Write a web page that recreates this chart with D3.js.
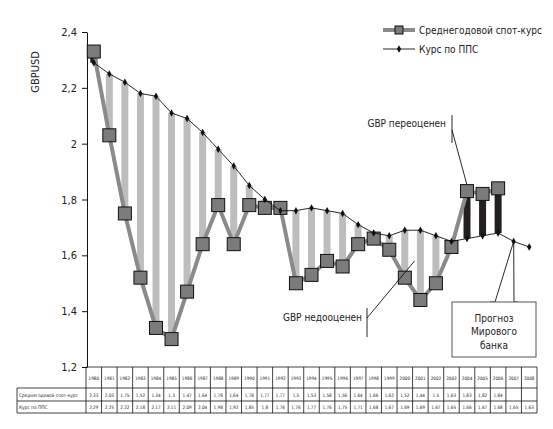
<!DOCTYPE html>
<html>
<head>
<meta charset="utf-8">
<script src="https://cdn.jsdelivr.net/npm/d3@7"></script>
<style>
  body { margin: 0; background: #fff; }
  text { font-family: "DejaVu Sans Condensed", "Open Sans", sans-serif; fill: #222; }
</style>
</head>
<body>
<div class="chart"></div>
<script>
// data
const years = [1980, 1981, 1982, 1983, 1984, 1985, 1986, 1987, 1988, 1989, 1990, 1991, 1992, 1993,
  1994, 1995, 1996, 1997, 1998, 1999, 2000, 2001, 2002, 2003, 2004, 2005, 2006, 2007, 2008]
const spot = [2.33, 2.03, 1.75, 1.52, 1.34, 1.3, 1.47, 1.64, 1.78, 1.64, 1.78, 1.77, 1.77, 1.5,
  1.53, 1.58, 1.56, 1.64, 1.66, 1.62, 1.52, 1.44, 1.5, 1.63, 1.83, 1.82, 1.84, null, null]
const ppp = [2.29, 2.25, 2.22, 2.18, 2.17, 2.11, 2.09, 2.04, 1.98, 1.92, 1.85, 1.8, 1.76, 1.76,
  1.77, 1.76, 1.75, 1.71, 1.68, 1.67, 1.69, 1.69, 1.67, 1.65, 1.66, 1.67, 1.68, 1.65, 1.63]
const yTicks = [1.2, 1.4, 1.6, 1.8, 2, 2.2, 2.4]
const seriesNames = ["Среднегодовой спот-курс", "Курс по ППС"]

const fmt = v => v == null ? "" : String(v).replace(".", ",")

const w = 553
const h = 429
const padL = 86, padR = 537, padT = 32, padB = 367

const svg = d3.select(".chart").append("svg")
  .attr("width", w).attr("height", h)

const x = d3.scaleBand().domain(years).range([padL, padR])
const cx = yr => x(yr) + x.bandwidth() / 2
const y = d3.scaleLinear().domain([1.2, 2.4]).range([padB, padT])

const data = years.map((yr, i) => ({ year: yr, spot: spot[i], ppp: ppp[i] }))
const withSpot = data.filter(d => d.spot != null)

// y axis
const yAxis = d3.axisLeft(y).tickValues(yTicks).tickFormat(fmt).tickSize(5).tickPadding(5).tickSizeOuter(0)
const ga = svg.append("g").attr("transform", `translate(${padL + 1},0)`).call(yAxis)
ga.select(".domain").attr("stroke", "#111")
ga.selectAll(".tick line").attr("stroke", "#111")
ga.selectAll(".tick text").style("font-size", "11px").style("fill", "#222")

svg.append("text")
  .attr("transform", `translate(39,72) rotate(-90)`)
  .attr("text-anchor", "middle")
  .style("font-size", "11px")
  .text("GBPUSD")

// difference bars
svg.selectAll(".diff").data(withSpot).enter().append("rect")
  .attr("class", "diff")
  .attr("x", d => cx(d.year) - 3.5)
  .attr("width", 7)
  .attr("y", d => y(Math.max(d.spot, d.ppp)))
  .attr("height", d => Math.abs(y(d.spot) - y(d.ppp)))
  .attr("fill", d => d.spot > d.ppp ? "#231f20" : "#bdbdbd")

// spot line
const line = key => d3.line().x(d => cx(d.year)).y(d => y(d[key]))
svg.append("path").datum(withSpot)
  .attr("d", line("spot"))
  .attr("fill", "none").attr("stroke", "#8a8a8a").attr("stroke-width", 4)

svg.selectAll(".sq").data(withSpot).enter().append("rect")
  .attr("class", "sq")
  .attr("x", d => cx(d.year) - 6.5).attr("y", d => y(d.spot) - 6.5)
  .attr("width", 13).attr("height", 13)
  .attr("fill", "#7b7b7b").attr("stroke", "#111").attr("stroke-width", 1)

// ppp line
svg.append("path").datum(data)
  .attr("d", line("ppp"))
  .attr("fill", "none").attr("stroke", "#111").attr("stroke-width", 0.9)

const diamond = d3.symbol().type(d3.symbolDiamond).size(16)
svg.selectAll(".dm").data(data).enter().append("path")
  .attr("class", "dm")
  .attr("d", diamond)
  .attr("transform", d => `translate(${cx(d.year)},${y(d.ppp)})`)
  .attr("fill", "#111")

// legend
const lg = svg.append("g")
lg.append("line").attr("x1", 383).attr("x2", 415).attr("y1", 30).attr("y2", 30)
  .attr("stroke", "#8a8a8a").attr("stroke-width", 4)
lg.append("rect").attr("x", 395).attr("y", 26).attr("width", 8).attr("height", 8)
  .attr("fill", "#7b7b7b").attr("stroke", "#111")
lg.append("line").attr("x1", 383).attr("x2", 415).attr("y1", 49).attr("y2", 49)
  .attr("stroke", "#111").attr("stroke-width", 0.9)
lg.append("path").attr("d", diamond).attr("transform", "translate(399,49)").attr("fill", "#111")
lg.selectAll(".lt").data(seriesNames).enter().append("text")
  .attr("x", 419).attr("y", (d, i) => 30 + i * 19).attr("dy", "0.35em")
  .style("font-size", "10px").text(d => d)

// annotations
const ann = svg.append("g").attr("stroke", "#111").attr("stroke-width", 0.9).attr("fill", "none")
const y04 = data.find(d => d.year === 2004)
ann.append("line").attr("x1", 452).attr("x2", 452).attr("y1", 115).attr("y2", 143)
ann.append("line").attr("x1", 452).attr("y1", 130).attr("x2", cx(2004)).attr("y2", y(y04.spot) - 6)
svg.append("text").attr("x", 446).attr("y", 127).attr("text-anchor", "end")
  .style("font-size", "10px").text("GBP переоценен")

ann.append("line").attr("x1", 367).attr("x2", 367).attr("y1", 308).attr("y2", 337)
ann.append("line").attr("x1", 367).attr("y1", 318).attr("x2", (cx(2000) + cx(2001)) / 2 + 2).attr("y2", y(1.58))
svg.append("text").attr("x", 362).attr("y", 321).attr("text-anchor", "end")
  .style("font-size", "10px").text("GBP недооценен")

const p07 = data.find(d => d.year === 2007)
ann.append("polyline").attr("points", `${cx(2007)},${y(p07.ppp)} 495,302 490,302`)
ann.append("polyline").attr("points", `${cx(2007)},${y(p07.ppp)} 514,302 518,302`)
svg.append("rect").attr("x", 452).attr("y", 302).attr("width", 84).attr("height", 55)
  .attr("fill", "#fff").attr("stroke", "#555").attr("stroke-width", 1)
svg.selectAll(".fc").data(["Прогноз", "Мирового", "банка"]).enter().append("text")
  .attr("x", 494).attr("y", (d, i) => 318 + i * 13.5).attr("dy", "0.35em")
  .attr("text-anchor", "middle").style("font-size", "10px").text(d => d)

// table
const rows = [388, 401, 413]
const tb = svg.append("g").attr("stroke", "#111").attr("stroke-width", 0.8)
tb.append("line").attr("x1", padL).attr("x2", padR).attr("y1", padB).attr("y2", padB)
rows.forEach(r => tb.append("line").attr("x1", 17).attr("x2", padR).attr("y1", r).attr("y2", r))
tb.append("line").attr("x1", 17).attr("x2", 17).attr("y1", rows[0]).attr("y2", rows[2])
tb.selectAll(".vl").data(years).enter().append("line")
  .attr("x1", d => x(d)).attr("x2", d => x(d)).attr("y1", padB).attr("y2", rows[2])
tb.append("line").attr("x1", padR).attr("x2", padR).attr("y1", padB).attr("y2", rows[2])

svg.selectAll(".yr").data(years).enter().append("text")
  .attr("x", d => cx(d)).attr("y", 378).attr("dy", "0.35em").attr("text-anchor", "middle")
  .style("font-size", "4.6px").text(d => d)
svg.selectAll(".vs").data(data).enter().append("text")
  .attr("x", d => cx(d.year)).attr("y", 395).attr("dy", "0.35em").attr("text-anchor", "middle")
  .style("font-size", "4.6px").text(d => fmt(d.spot))
svg.selectAll(".vp").data(data).enter().append("text")
  .attr("x", d => cx(d.year)).attr("y", 407.5).attr("dy", "0.35em").attr("text-anchor", "middle")
  .style("font-size", "4.6px").text(d => fmt(d.ppp))
svg.selectAll(".rl").data(seriesNames).enter().append("text")
  .attr("x", 19).attr("y", (d, i) => 395 + i * 12.5).attr("dy", "0.35em")
  .style("font-size", "4.8px").text(d => d)
</script>
</body>
</html>
